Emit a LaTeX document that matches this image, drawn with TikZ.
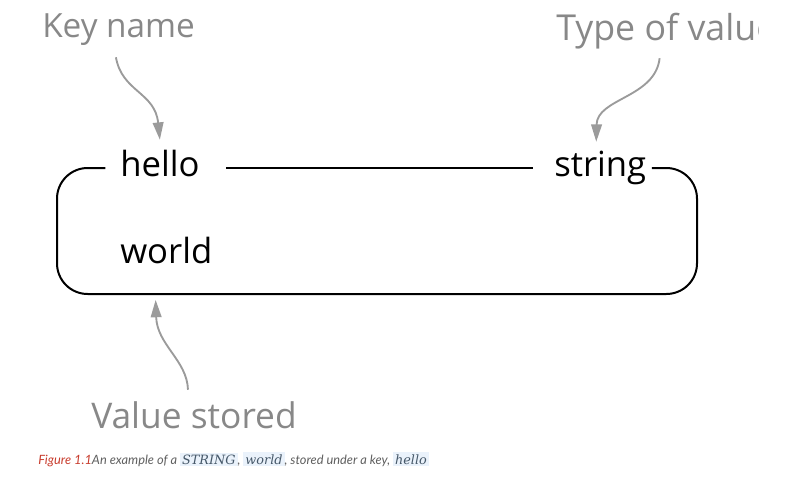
\documentclass[tikz,border=0pt]{standalone}
\usepackage{fontspec}
\usepackage{xcolor}
\setmainfont{Open Sans}
\newfontfamily\capfont{Lato}
\newfontfamily\codefont{DejaVu Serif}
\usetikzlibrary{arrows.meta}
\definecolor{notegray}{RGB}{136,136,136}
\definecolor{arrowgray}{RGB}{155,155,155}
\definecolor{figred}{RGB}{200,60,45}
\definecolor{capgray}{RGB}{95,95,95}
\definecolor{codebg}{RGB}{234,242,251}
\definecolor{codefg}{RGB}{70,88,105}
\newcommand{\codeword}[1]{{\setlength{\fboxsep}{1.5pt}\colorbox{codebg}{\codefont\itshape\color{codefg}#1}}}

\begin{document}
\begin{tikzpicture}[x=0.75pt,y=-0.75pt,
  keytext/.style={inner sep=0pt,text height=12pt,text depth=0pt,font=\fontsize{26}{30}\selectfont,anchor=base west},
  notetext/.style={inner sep=0pt,text height=18pt,text depth=0pt,font=\fontsize{25}{29}\selectfont,text=notegray,anchor=base west},
  frame/.style={line width=1.5pt,black},
  note/.style={line width=1.4pt,arrowgray,-{Triangle[length=13pt,width=8pt]}}]
		\useasboundingbox (0,0) rectangle (785,489);
		\clip (0,0) rectangle (758,489);
		% Cac nhan
		\node[notetext] (keyname) at (42,37) {Key name};
		\node[notetext,font=\fontsize{26.8}{30}\selectfont] (typeval) at (556,40) {Type of value};
		\node[notetext,font=\fontsize{26.5}{30}\selectfont] (valstored) at (91,428) {Value stored};
		\node[keytext] (hello) at (120,176) {hello};
		\node[keytext] (string) at (554,176) {string};
		\node[keytext] (world) at (120,263) {world};
		% Khung
		\draw[frame] ([xshift=20pt]hello.east) -- ([xshift=-16pt]string.west);
		\draw[frame,rounded corners=23pt] ([xshift=4pt]string.east) -| (697,294) -| (57,168) -- ([xshift=-11pt]hello.west);
		% Mui ten
		\draw[note] ([xshift=-2pt,yshift=-15pt]keyname.south) .. controls (122,92) and (155,92) .. ([yshift=15pt]hello.north);
		\draw[note] ([xshift=-5pt,yshift=-13.5pt]typeval.south) .. controls (655,98) and (597,98) .. ([xshift=-3pt,yshift=13.5pt]string.north);
		\draw[note] ([xshift=-4.5pt,yshift=10.5pt]valstored.north) .. controls (187,360) and (157,345) .. ([xshift=-8pt,yshift=-27.5pt]world.south);
		% Chu thich
		\node[inner sep=0pt,anchor=base west,font=\capfont\itshape\fontsize{9.6}{11}\selectfont,text=capgray] (caption) at (38,464)
		  {\textcolor{figred}{Figure 1.1}An example of a \codeword{STRING}, \codeword{world}, stored under a key, \codeword{hello}};
\end{tikzpicture}
\end{document}
